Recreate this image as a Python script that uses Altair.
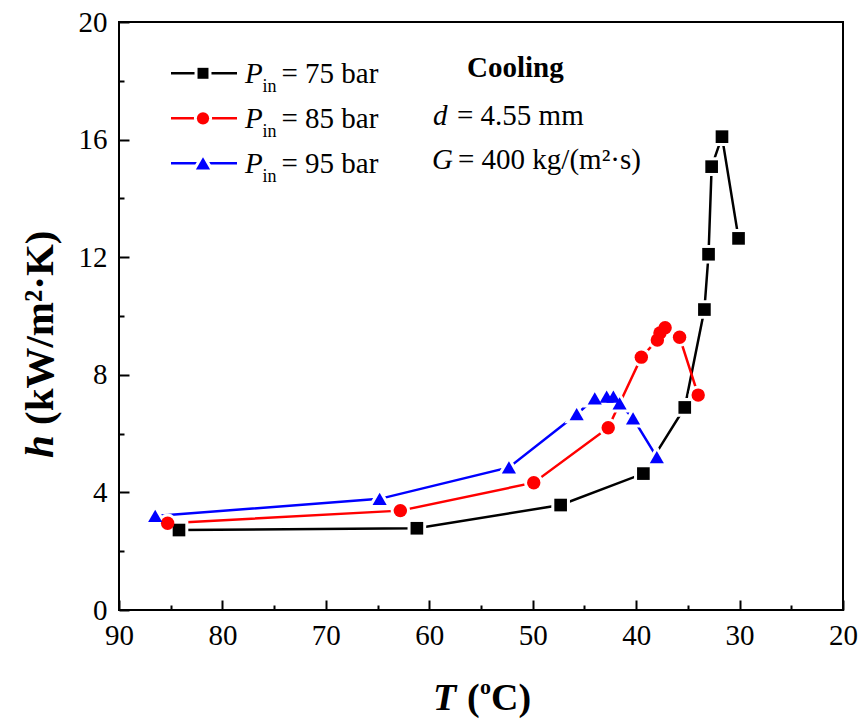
import altair as alt
import pandas as pd

# ---------------- data ----------------
series_names = ["75 bar", "85 bar", "95 bar"]
legend_values = ["= 75 bar", "= 85 bar", "= 95 bar"]
colors = ["#000000", "#ff0000", "#0000ff"]
shapes = ["square", "circle", "triangle-up"]
sizes = [160, 200, 270]

T_75 = [84.2, 61.2, 47.3, 39.3, 35.3, 33.4, 33.0, 32.7, 31.7, 30.1]
h_75 = [2.72, 2.78, 3.57, 4.64, 6.89, 10.22, 12.1, 15.08, 16.1, 12.64]
T_85 = [85.3, 62.8, 49.9, 42.7, 39.5, 37.95, 37.7, 37.2, 35.8, 34.0]
h_85 = [2.95, 3.38, 4.33, 6.2, 8.6, 9.18, 9.42, 9.6, 9.28, 7.31]
T_95 = [86.5, 64.8, 52.3, 45.75, 44.0, 42.85, 42.2, 41.6, 40.3, 38.0]
h_95 = [3.2, 3.78, 4.85, 6.66, 7.2, 7.26, 7.26, 7.03, 6.52, 5.2]

x_major = [90, 80, 70, 60, 50, 40, 30, 20]
x_minor = [85, 75, 65, 55, 45, 35, 25]
y_major = [0, 4, 8, 12, 16, 20]
y_minor = [2, 6, 10, 14, 18]

rows = []
for name, Ts, hs in zip(series_names, [T_75, T_85, T_95], [h_75, h_85, h_95]):
    for i, (t, h) in enumerate(zip(Ts, hs)):
        rows.append({"series": name, "T": t, "h": h, "idx": i})
df = pd.DataFrame(rows)

FONT = "Liberation Serif"
W, H = 724, 588

xs = alt.Scale(domain=[20, 90], reverse=True, nice=False, zero=False)
ys = alt.Scale(domain=[0, 20], nice=False, zero=False)
col = alt.Color("series:N", scale=alt.Scale(domain=series_names, range=colors), legend=None)
shp = alt.Shape("series:N", scale=alt.Scale(domain=series_names, range=shapes), legend=None)
siz = alt.Size("series:N", scale=alt.Scale(domain=series_names, range=sizes), legend=None)

base = alt.Chart(df)

lab_axis = dict(title=None, ticks=False, tickSize=0, domain=False, grid=False,
                labelFont=FONT, labelFontSize=29, labelColor="black",
                labelFlush=False, labelOverlap=False)

lines = base.mark_line(strokeWidth=2.5).encode(
    x=alt.X("T:Q", scale=xs, axis=alt.Axis(values=x_major, labelPadding=11, **lab_axis)),
    y=alt.Y("h:Q", scale=ys, axis=alt.Axis(values=y_major, labelPadding=12, **lab_axis)),
    color=col,
    order="idx:Q",
)

halos = base.mark_point(filled=True, fill="white", stroke="white", strokeWidth=6, opacity=1).encode(
    x=alt.X("T:Q", scale=xs, axis=None),
    y=alt.Y("h:Q", scale=ys, axis=None),
    shape=shp, size=siz,
)

points = base.mark_point(filled=True, opacity=1).encode(
    x=alt.X("T:Q", scale=xs, axis=None),
    y=alt.Y("h:Q", scale=ys, axis=None),
    color=col, shape=shp, size=siz,
)


def tick_layer(xv, yv, size):
    common = dict(tickSize=size, tickWidth=2, tickColor="black", labels=False,
                  domain=False, grid=False, title=None)
    return base.mark_point(opacity=0).encode(
        x=alt.X("T:Q", scale=xs, axis=alt.Axis(orient="top", offset=-H, values=xv, **common)),
        y=alt.Y("h:Q", scale=ys, axis=alt.Axis(orient="right", offset=-W, values=yv, **common)),
    )


ticks_major = tick_layer(x_major, y_major, 10)
ticks_minor = tick_layer(x_minor, y_minor, 5)


def label(text, x, y, size=29, style="normal", weight="normal", angle=0,
          align="left", baseline="alphabetic"):
    return alt.Chart(alt.Data(values=[{}])).mark_text(
        text=text, font=FONT, fontSize=size, fontStyle=style, fontWeight=weight,
        angle=angle, align=align, baseline=baseline, color="black",
    ).encode(x=alt.value(x), y=alt.value(y))


texts = []
# axis titles
texts.append(label("h", -66, 436, size=41, style="italic", weight="bold", angle=270))
texts.append(label("(kW/m²·K)", -66, 403, size=41, weight="bold", angle=270))
texts.append(label("T", 314, 688, size=38, style="italic", weight="bold"))
texts.append(label("(", 348, 688, size=38, weight="bold"))
texts.append(label("o", 361, 672, size=22, weight="bold"))
texts.append(label("C)", 372, 688, size=38, weight="bold"))

# annotations
texts.append(label("Cooling", 348, 55, weight="bold"))
texts.append(label("d", 314, 103, style="italic"))
texts.append(label("= 4.55 mm", 338, 103))
texts.append(label("G", 313, 147, style="italic"))
texts.append(label("= 400 kg/(m²·s)", 339, 147))

# custom legend
legend_layers = []
for k in range(3):
    yl = 51.3 + 45 * k
    legend_layers.append(
        alt.Chart(alt.Data(values=[{}])).mark_rule(strokeWidth=2.5, color=colors[k]).encode(
            x=alt.value(52), x2=alt.value(118), y=alt.value(yl))
    )
    legend_layers.append(
        alt.Chart(alt.Data(values=[{}])).mark_point(
            filled=True, fill="white", stroke="white", strokeWidth=6, opacity=1,
            shape=shapes[k], size=sizes[k] * 0.75).encode(x=alt.value(84), y=alt.value(yl))
    )
    legend_layers.append(
        alt.Chart(alt.Data(values=[{}])).mark_point(
            filled=True, opacity=1, color=colors[k],
            shape=shapes[k], size=sizes[k] * 0.75).encode(x=alt.value(84), y=alt.value(yl))
    )
    texts.append(label("P", 126, yl + 10, style="italic"))
    texts.append(label("in", 143.5, yl + 18.4, size=18))
    texts.append(label(legend_values[k], 162.5, yl + 10))

chart = alt.layer(
    lines, ticks_major, ticks_minor, halos, points, *legend_layers, *texts
).resolve_axis(
    x="independent", y="independent"
).properties(
    width=W, height=H,
    autosize=alt.AutoSizeParams(type="none"),
    padding={"left": 119, "top": 22, "right": 18, "bottom": 110},
).configure_view(
    stroke="black", strokeWidth=2
)

chart.save("out.html", embed_options={"renderer": "svg", "actions": False})
